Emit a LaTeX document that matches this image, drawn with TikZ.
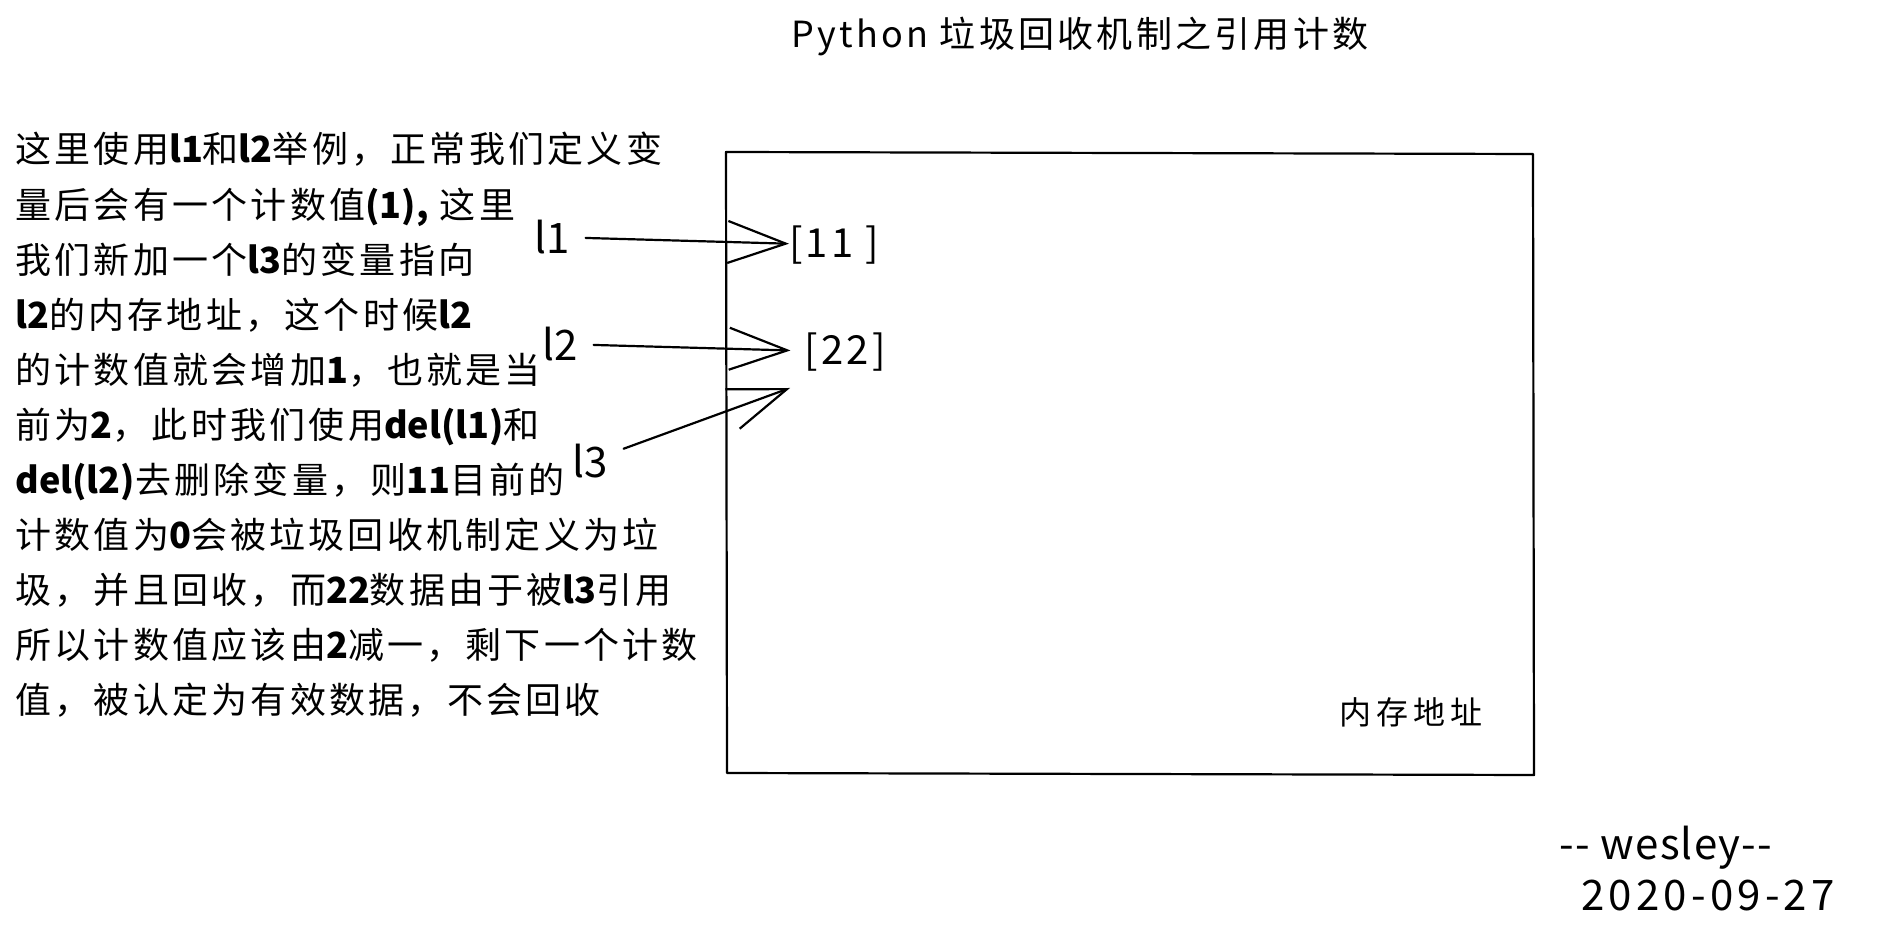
\documentclass[tikz,border=0pt]{standalone}
\usepackage{fontspec}
\setmainfont{Noto Sans CJK SC}
\newfontfamily\latf{Noto Sans CJK SC}
\newcommand\latx[1]{{\latf\bfseries #1}}
\usetikzlibrary{arrows.meta}
\begin{document}
\begin{tikzpicture}[x=0.5pt,y=-0.5pt,
  sk/.style={line width=1.1pt, line cap=round, line join=round},
  barb/.style={-{Straight Barb[length=29pt,width=21pt,line width=1.1pt]}},
  lbl/.style={font=\fontsize{21}{25}\selectfont, inner sep=0pt, outer sep=8pt},
  val/.style={font=\fontsize{20}{24}\selectfont\addfontfeatures{LetterSpace=8}, inner sep=0pt, outer sep=0pt},
  body/.style={font=\fontsize{18}{27.55}\selectfont\addfontfeatures{LetterSpace=9}, align=left, inner sep=0pt, anchor=north west},
  title/.style={font=\fontsize{18}{22}\selectfont\addfontfeatures{LetterSpace=9}, inner sep=0pt},
  note/.style={font=\fontsize{16}{19}\selectfont\addfontfeatures{LetterSpace=15}, inner sep=0pt},
  sig/.style={font=\fontsize{21}{24}\selectfont\addfontfeatures{LetterSpace=10}, inner sep=0pt},
]
\useasboundingbox[fill=white] (0,0) rectangle (1886,940);

% title
\node[title] (ttl) at (1080,36) {Python 垃圾回收机制之引用计数};

% explanation text
\node[body] (txt) at (15,132) {这里使用\latx{l1}和\latx{l2}举例，正常我们定义变\\
量后会有一个计数值\latx{(1),} 这里\\
我们新加一个\latx{l3}的变量指向\\
\latx{l2}的内存地址，这个时候\latx{l2}\\
的计数值就会增加\latx{1}，也就是当\\
前为\latx{2}，此时我们使用\latx{del(l1)}和\\
\latx{del(l2)}去删除变量，则\latx{11}目前的\\
计数值为\latx{0}会被垃圾回收机制定义为垃\\
圾，并且回收，而\latx{22}数据由于被\latx{l3}引用\\
所以计数值应该由\latx{2}减一，剩下一个计数\\
值，被认定为有效数据，不会回收};

% memory box
\draw[sk] (726,152) -- (1533,154) -- (1534,775) -- (727,773) -- cycle;
\node[note] (mem) at (1411,712) {内存地址};

% variable labels and values
\node[lbl] (l1) at (552,237) {l1};
\node[lbl] (l2) at (560,344) {l2};
\node[lbl] (l3) at (590,461) {l3};
\node[val] (v11) at (834,245) {[11 ]};
\node[val] (v22) at (845,352) {[22]};
\coordinate (p22) at (790,388);

% arrows
\draw[sk,barb] (l1) -- (v11);
\draw[sk,barb,shorten >=7pt] (l2) -- (v22);
\draw[sk,barb] (l3) -- (p22);

% signature
\node[sig,font=\fontsize{21}{24}\selectfont\addfontfeatures{LetterSpace=3}] (who) at (1666,848) {{-}{-} wesley{-}{-}};
\node[sig] (date) at (1708,896) {2020-09-27};
\end{tikzpicture}
\end{document}
